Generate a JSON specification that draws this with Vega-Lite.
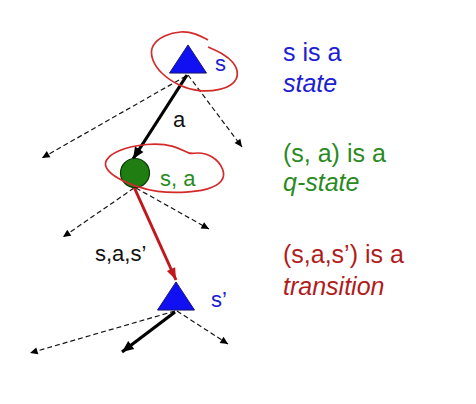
{
  "$schema": "https://vega.github.io/schema/vega-lite/v6.json",
  "width": 476,
  "height": 404,
  "padding": 0,
  "autosize": {"type": "none"},
  "background": "white",
  "config": {"view": {"stroke": null}},
  "datasets": {
    "edges": [
      {"kind": "solid", "x1": 187, "y1": 75, "x2": 133, "y2": 159},
      {"kind": "solid", "x1": 175, "y1": 312, "x2": 122, "y2": 352},
      {"kind": "dashed", "x1": 186, "y1": 76, "x2": 42, "y2": 158},
      {"kind": "dashed", "x1": 188, "y1": 75, "x2": 242, "y2": 147},
      {"kind": "dashed", "x1": 134, "y1": 188, "x2": 63, "y2": 237},
      {"kind": "dashed", "x1": 136, "y1": 188, "x2": 209, "y2": 229},
      {"kind": "dashed", "x1": 175, "y1": 311, "x2": 30, "y2": 353},
      {"kind": "dashed", "x1": 177, "y1": 311, "x2": 228, "y2": 344},
      {"kind": "red", "x1": 134, "y1": 187, "x2": 176, "y2": 280}
    ],
    "nodes": [
      {"id": "s", "kind": "state", "x": 188, "y": 59},
      {"id": "sa", "kind": "qstate", "x": 135, "y": 173},
      {"id": "s'", "kind": "state", "x": 176, "y": 296}
    ],
    "rings": [
      {"ring": 1, "i": 0, "x": 208, "y": 40},
      {"ring": 1, "i": 1, "x": 195, "y": 33},
      {"ring": 1, "i": 2, "x": 181, "y": 31},
      {"ring": 1, "i": 3, "x": 164, "y": 35},
      {"ring": 1, "i": 4, "x": 151, "y": 45},
      {"ring": 1, "i": 5, "x": 151, "y": 59},
      {"ring": 1, "i": 6, "x": 161, "y": 74},
      {"ring": 1, "i": 7, "x": 179, "y": 86},
      {"ring": 1, "i": 8, "x": 199, "y": 92},
      {"ring": 1, "i": 9, "x": 221, "y": 90},
      {"ring": 1, "i": 10, "x": 234, "y": 84},
      {"ring": 1, "i": 11, "x": 239, "y": 74},
      {"ring": 1, "i": 12, "x": 234, "y": 62},
      {"ring": 1, "i": 13, "x": 222, "y": 53},
      {"ring": 1, "i": 14, "x": 208, "y": 47},
      {"ring": 2, "i": 0, "x": 104, "y": 161},
      {"ring": 2, "i": 1, "x": 116, "y": 150},
      {"ring": 2, "i": 2, "x": 147, "y": 143},
      {"ring": 2, "i": 3, "x": 175, "y": 145},
      {"ring": 2, "i": 4, "x": 190, "y": 155},
      {"ring": 2, "i": 5, "x": 196, "y": 152},
      {"ring": 2, "i": 6, "x": 213, "y": 155},
      {"ring": 2, "i": 7, "x": 225, "y": 170},
      {"ring": 2, "i": 8, "x": 223, "y": 182},
      {"ring": 2, "i": 9, "x": 209, "y": 190},
      {"ring": 2, "i": 10, "x": 181, "y": 193},
      {"ring": 2, "i": 11, "x": 157, "y": 192},
      {"ring": 2, "i": 12, "x": 137, "y": 187},
      {"ring": 2, "i": 13, "x": 116, "y": 178},
      {"ring": 2, "i": 14, "x": 106, "y": 169}
    ],
    "labels": [
      {"text": "s", "group": "state", "x": 215, "y": 71},
      {"text": "a", "group": "action", "x": 173, "y": 127},
      {"text": "s, a", "group": "qstate", "x": 160, "y": 186},
      {"text": "s,a,s’", "group": "action", "x": 95, "y": 261},
      {"text": "s’", "group": "state", "x": 211, "y": 307}
    ],
    "notes": [
      {"text": "s is a", "part": "head", "group": "state", "x": 283, "y": 61},
      {"text": "state", "part": "term", "group": "state", "x": 283, "y": 92},
      {"text": "(s, a) is a", "part": "head", "group": "qstate", "x": 283, "y": 162},
      {"text": "q-state", "part": "term", "group": "qstate", "x": 283, "y": 191},
      {"text": "(s,a,s’) is a", "part": "head", "group": "transition", "x": 283, "y": 263},
      {"text": "transition", "part": "term", "group": "transition", "x": 283, "y": 295}
    ]
  },
  "layer": [
    {
      "data": {"name": "edges"},
      "transform": [{"filter": "datum.kind === 'dashed'"}],
      "mark": {"type": "rule", "color": "#151515", "strokeWidth": 1.2, "strokeDash": [5, 3]},
      "encoding": {
        "x": {"field": "x1", "type": "quantitative", "scale": {"domain": [0, 476], "nice": false, "zero": false}, "axis": null},
        "y": {"field": "y1", "type": "quantitative", "scale": {"domain": [0, 404], "nice": false, "zero": false, "reverse": true}, "axis": null},
        "x2": {"field": "x2"},
        "y2": {"field": "y2"}
      }
    },
    {
      "data": {"name": "edges"},
      "transform": [{"filter": "datum.kind === 'solid'"}],
      "mark": {"type": "rule", "color": "#000000", "strokeWidth": 3.2},
      "encoding": {
        "x": {"field": "x1", "type": "quantitative", "axis": null},
        "y": {"field": "y1", "type": "quantitative", "axis": null},
        "x2": {"field": "x2"},
        "y2": {"field": "y2"}
      }
    },
    {
      "data": {"name": "edges"},
      "transform": [{"filter": "datum.kind === 'red'"}],
      "mark": {"type": "rule", "color": "#c0181c", "strokeWidth": 3},
      "encoding": {
        "x": {"field": "x1", "type": "quantitative", "axis": null},
        "y": {"field": "y1", "type": "quantitative", "axis": null},
        "x2": {"field": "x2"},
        "y2": {"field": "y2"}
      }
    },
    {
      "data": {"name": "nodes"},
      "transform": [{"filter": "datum.kind === 'state'"}],
      "mark": {"type": "point", "shape": "M0,-0.76L1,0.76L-1,0.76Z", "size": 1369, "filled": true, "fill": "#1010f2", "stroke": "#181870", "strokeWidth": 1, "opacity": 1},
      "encoding": {
        "x": {"field": "x", "type": "quantitative", "axis": null},
        "y": {"field": "y", "type": "quantitative", "axis": null}
      }
    },
    {
      "data": {"name": "nodes"},
      "transform": [{"filter": "datum.kind === 'qstate'"}],
      "mark": {"type": "point", "shape": "circle", "size": 841, "filled": true, "fill": "#1f7d12", "stroke": "#0d3b08", "strokeWidth": 1.2, "opacity": 1},
      "encoding": {
        "x": {"field": "x", "type": "quantitative", "axis": null},
        "y": {"field": "y", "type": "quantitative", "axis": null}
      }
    },
    {
      "data": {"name": "rings"},
      "transform": [{"filter": "datum.ring === 1"}],
      "mark": {"type": "line", "interpolate": "basis", "color": "#d42a2a", "strokeWidth": 1.7},
      "encoding": {
        "x": {"field": "x", "type": "quantitative", "axis": null},
        "y": {"field": "y", "type": "quantitative", "axis": null},
        "order": {"field": "i", "type": "quantitative"}
      }
    },
    {
      "data": {"name": "rings"},
      "transform": [{"filter": "datum.ring === 2"}],
      "mark": {"type": "line", "interpolate": "basis-closed", "color": "#d42a2a", "strokeWidth": 1.7},
      "encoding": {
        "x": {"field": "x", "type": "quantitative", "axis": null},
        "y": {"field": "y", "type": "quantitative", "axis": null},
        "order": {"field": "i", "type": "quantitative"}
      }
    },
    {
      "data": {"name": "edges"},
      "transform": [
        {"filter": "datum.kind === 'dashed'"},
        {"calculate": "atan2(datum.x2 - datum.x1, datum.y1 - datum.y2) * 180 / PI", "as": "heading"}
      ],
      "mark": {"type": "point", "shape": "M0,0L-0.9,1.9L0.9,1.9Z", "size": 64, "filled": true, "color": "#000000", "opacity": 1},
      "encoding": {
        "x": {"field": "x2", "type": "quantitative", "axis": null},
        "y": {"field": "y2", "type": "quantitative", "axis": null},
        "angle": {"field": "heading", "type": "quantitative", "scale": null}
      }
    },
    {
      "data": {"name": "edges"},
      "transform": [
        {"filter": "datum.kind === 'solid'"},
        {"calculate": "atan2(datum.x2 - datum.x1, datum.y1 - datum.y2) * 180 / PI", "as": "heading"}
      ],
      "mark": {"type": "point", "shape": "M0,0L-1,2.3L1,2.3Z", "size": 100, "filled": true, "color": "#000000", "opacity": 1},
      "encoding": {
        "x": {"field": "x2", "type": "quantitative", "axis": null},
        "y": {"field": "y2", "type": "quantitative", "axis": null},
        "angle": {"field": "heading", "type": "quantitative", "scale": null}
      }
    },
    {
      "data": {"name": "edges"},
      "transform": [
        {"filter": "datum.kind === 'red'"},
        {"calculate": "atan2(datum.x2 - datum.x1, datum.y1 - datum.y2) * 180 / PI", "as": "heading"}
      ],
      "mark": {"type": "point", "shape": "M0,0L-0.9,2.4L0.9,2.4Z", "size": 100, "filled": true, "color": "#c0181c", "opacity": 1},
      "encoding": {
        "x": {"field": "x2", "type": "quantitative", "axis": null},
        "y": {"field": "y2", "type": "quantitative", "axis": null},
        "angle": {"field": "heading", "type": "quantitative", "scale": null}
      }
    },
    {
      "data": {"name": "labels"},
      "mark": {"type": "text", "align": "left", "baseline": "alphabetic", "font": "Liberation Sans", "fontSize": 22},
      "encoding": {
        "x": {"field": "x", "type": "quantitative", "axis": null},
        "y": {"field": "y", "type": "quantitative", "axis": null},
        "text": {"field": "text"},
        "color": {"field": "group", "type": "nominal", "legend": null, "scale": {"domain": ["state", "qstate", "transition", "action"], "range": ["#2020d2", "#2a8a22", "#b01c1c", "#111111"]}}
      }
    },
    {
      "data": {"name": "notes"},
      "transform": [{"filter": "datum.part === 'head'"}],
      "mark": {"type": "text", "align": "left", "baseline": "alphabetic", "font": "Liberation Sans", "fontSize": 25},
      "encoding": {
        "x": {"field": "x", "type": "quantitative", "axis": null},
        "y": {"field": "y", "type": "quantitative", "axis": null},
        "text": {"field": "text"},
        "color": {"field": "group", "type": "nominal", "legend": null}
      }
    },
    {
      "data": {"name": "notes"},
      "transform": [{"filter": "datum.part === 'term'"}],
      "mark": {"type": "text", "align": "left", "baseline": "alphabetic", "font": "Liberation Sans", "fontSize": 25, "fontStyle": "italic"},
      "encoding": {
        "x": {"field": "x", "type": "quantitative", "axis": null},
        "y": {"field": "y", "type": "quantitative", "axis": null},
        "text": {"field": "text"},
        "color": {"field": "group", "type": "nominal", "legend": null}
      }
    }
  ]
}
